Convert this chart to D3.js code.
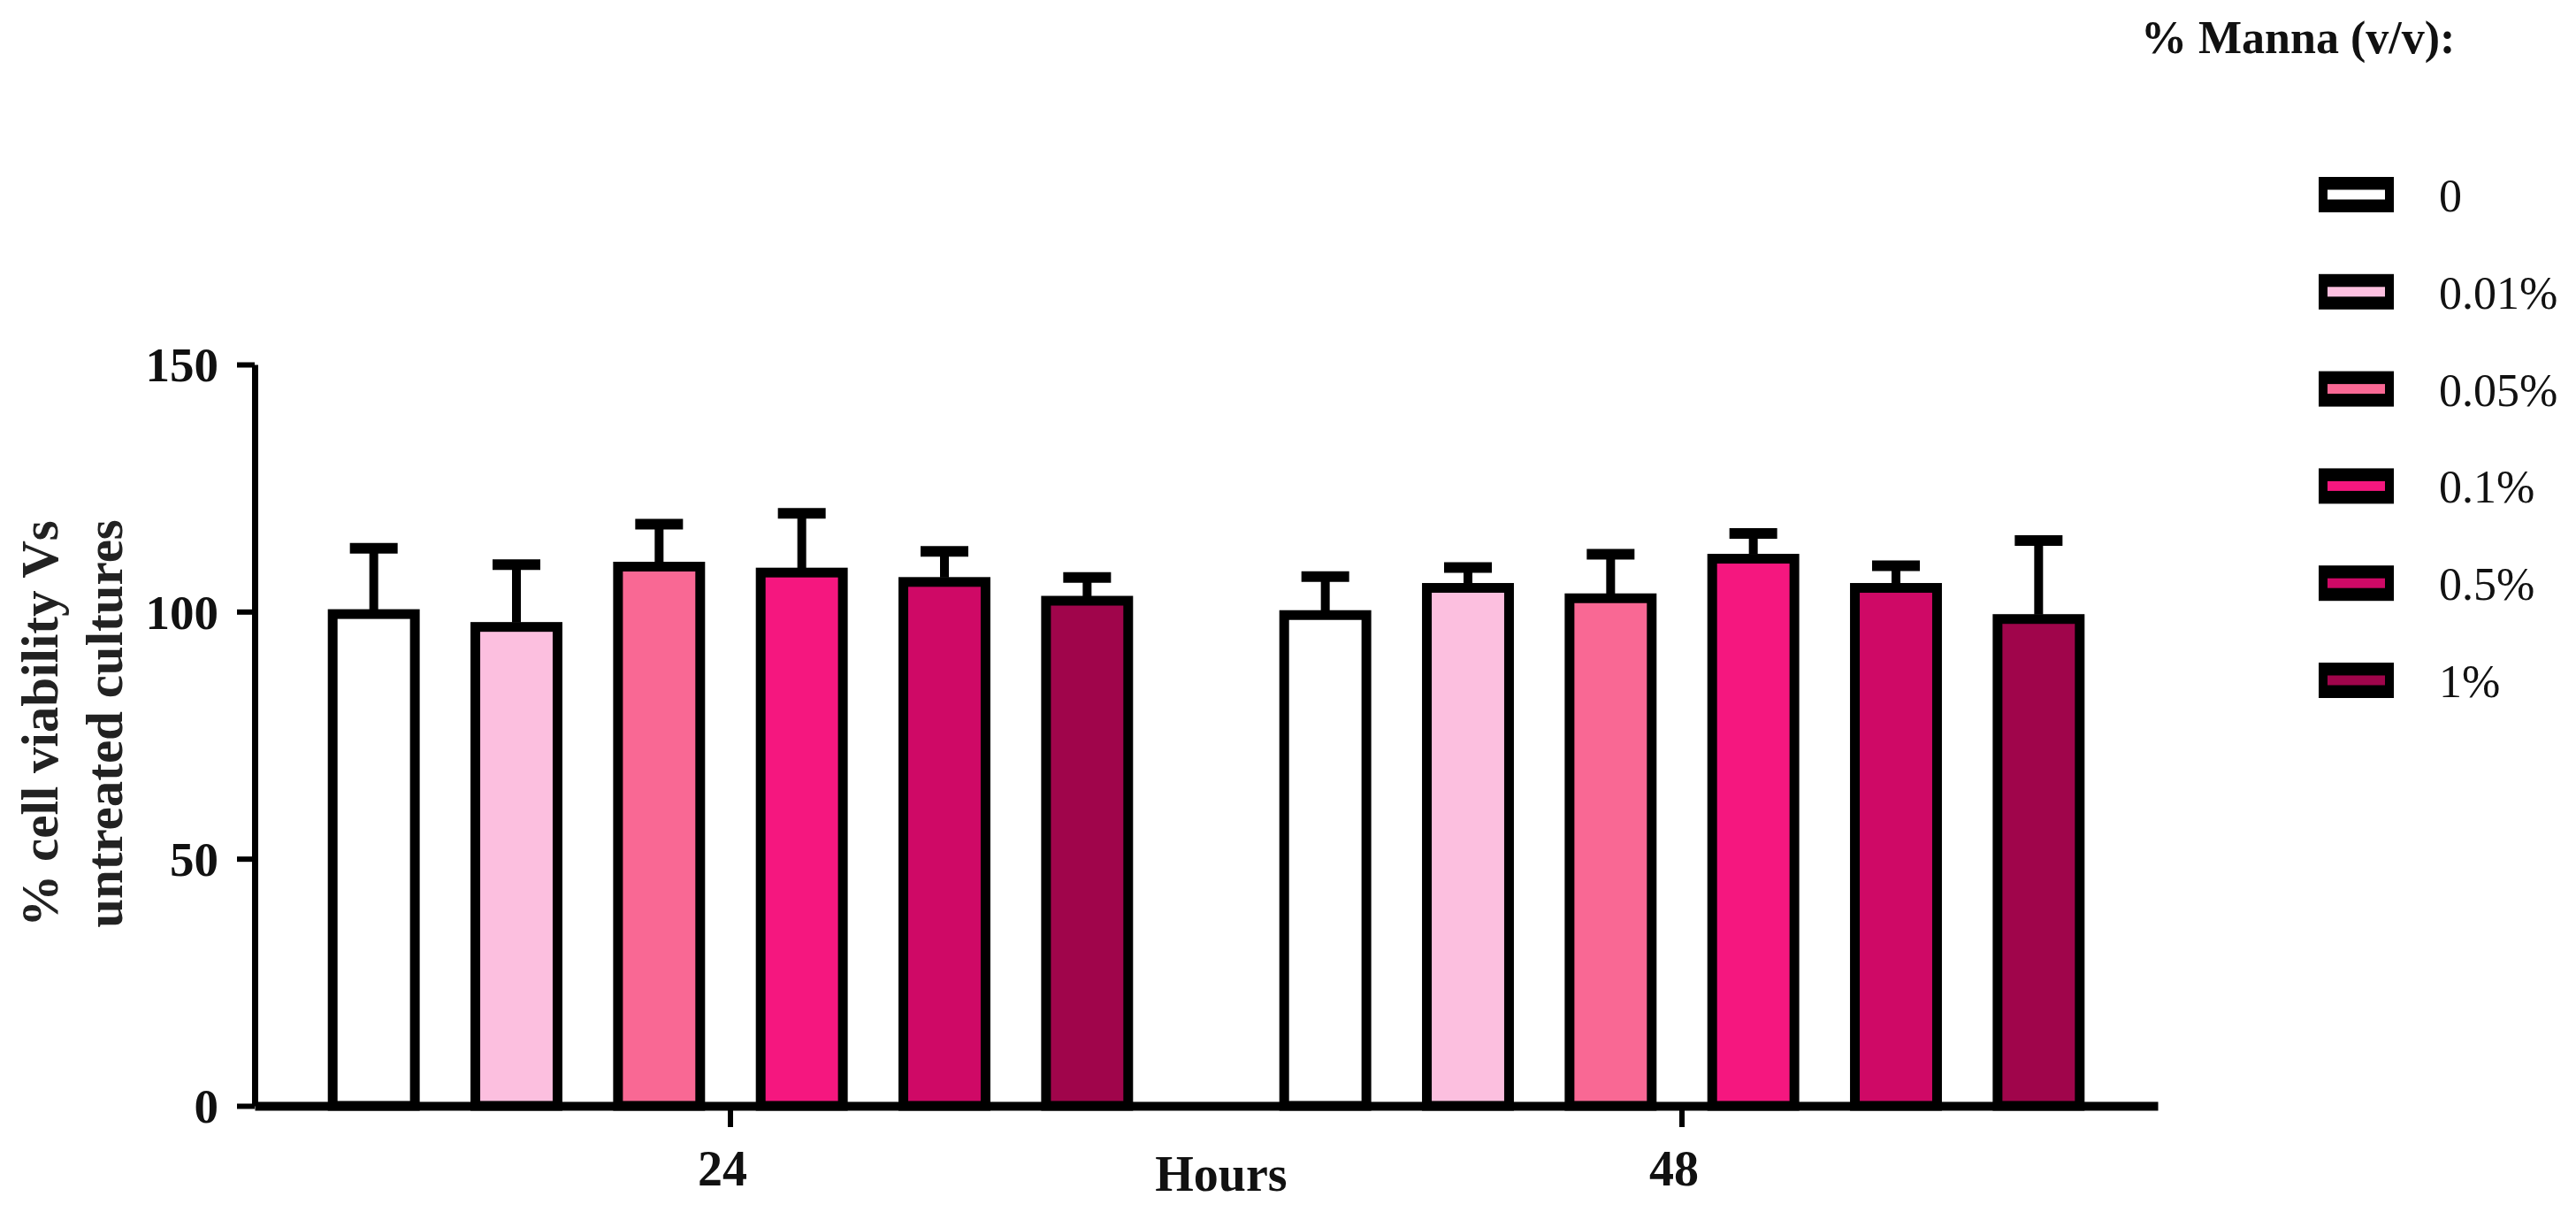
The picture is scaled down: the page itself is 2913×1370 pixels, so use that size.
<!DOCTYPE html>
<html>
<head>
<meta charset="utf-8">
<script src="https://cdn.jsdelivr.net/npm/d3@7"></script>
<style>
  html, body { margin: 0; padding: 0; background: #ffffff; }
  svg { display: block; }
</style>
</head>
<body>
<svg id="chart" width="2913" height="1370"></svg>
<script>
// ---- data ----
const hours = ["24", "48"];
const series = ["0", "0.01%", "0.05%", "0.1%", "0.5%", "1%"];
const colors = ["#ffffff", "#fcbfdf", "#f96894", "#f5177f", "#cf0966", "#a0054b"];
const means24 = [99.5, 96.9, 109.1, 107.9, 106.0, 102.2];
const errs24  = [13.3, 12.6, 8.6, 12.0, 6.2, 4.7];
const means48 = [99.3, 104.8, 102.7, 110.7, 104.8, 98.5];
const errs48  = [7.8, 4.1, 8.9, 5.1, 4.5, 15.9];
const yTicks = [0, 50, 100, 150];
const yTitleLines = ["% cell viability Vs", "untreated cultures"];
const xTitle = "Hours";
const legendTitle = "% Manna (v/v):";

const table = [];
hours.forEach((h, hi) => {
  const m = hi === 0 ? means24 : means48;
  const e = hi === 0 ? errs24 : errs48;
  series.forEach((s, si) => table.push({ hour: h, series: s, color: colors[si], mean: m[si], err: e[si] }));
});

// ---- layout ----
const svg = d3.select("#chart");
const serif = "'Liberation Serif', 'Times New Roman', serif";

const x0 = d3.scaleBand().domain(hours).range([288, 2440]).padding(0);
const groupW = 968;
const x1 = d3.scaleBand().domain(series).range([-groupW / 2, groupW / 2])
  .paddingInner(0.424).paddingOuter(0.212);
const y = d3.scaleLinear().domain([0, 150]).range([1250, 412]);

// bars
const barG = svg.append("g");
barG.selectAll("rect").data(table).join("rect")
  .attr("x", d => x0(d.hour) + x0.bandwidth() / 2 + x1(d.series))
  .attr("width", x1.bandwidth())
  .attr("y", d => y(d.mean))
  .attr("height", d => y(0) - y(d.mean))
  .attr("fill", d => d.color)
  .attr("stroke", "#000")
  .attr("stroke-width", 11);

// error bars (upper only)
const errG = svg.append("g").attr("stroke", "#000");
const cx = d => x0(d.hour) + x0.bandwidth() / 2 + x1(d.series) + x1.bandwidth() / 2;
errG.selectAll("line.stem").data(table).join("line").attr("class", "stem")
  .attr("x1", cx).attr("x2", cx)
  .attr("y1", d => y(d.mean) - 5).attr("y2", d => y(d.mean + d.err))
  .attr("stroke-width", 10);
errG.selectAll("line.cap").data(table).join("line").attr("class", "cap")
  .attr("x1", d => cx(d) - 27).attr("x2", d => cx(d) + 27)
  .attr("y1", d => y(d.mean + d.err)).attr("y2", d => y(d.mean + d.err))
  .attr("stroke-width", 12);

// y axis
const yAxis = svg.append("g").attr("transform", "translate(288,0)")
  .call(d3.axisLeft(y).tickValues(yTicks).tickSize(20).tickSizeOuter(0).tickPadding(21));
yAxis.select(".domain").attr("stroke", "#000").attr("stroke-width", 7);
yAxis.selectAll(".tick line").attr("stroke", "#000").attr("stroke-width", 6);
yAxis.selectAll(".tick text").attr("font-family", serif).attr("font-weight", "bold")
  .attr("font-size", 55).attr("fill", "#111").attr("dy", "0.34em");

// x axis
const xAxis = svg.append("g").attr("transform", "translate(0,1250)")
  .call(d3.axisBottom(x0).tickSize(24).tickSizeOuter(0).tickPadding(26));
xAxis.select(".domain").attr("stroke", "#000").attr("stroke-width", 10);
xAxis.selectAll(".tick line").attr("stroke", "#000").attr("stroke-width", 6);
xAxis.selectAll(".tick text").attr("font-family", serif).attr("font-weight", "bold")
  .attr("font-size", 56).attr("fill", "#111").attr("dx", -9).attr("dy", "0.71em");

// axis titles
svg.append("text").attr("x", 1381).attr("y", 1346).attr("text-anchor", "middle")
  .attr("font-family", serif).attr("font-weight", "bold").attr("font-size", 56)
  .attr("fill", "#111").text(xTitle);

const yTitleX = [65, 138];
yTitleLines.forEach((t, i) => {
  svg.append("text").attr("transform", `translate(${yTitleX[i]},818) rotate(-90)`)
    .attr("text-anchor", "middle")
    .attr("font-family", serif).attr("font-weight", "bold").attr("font-size", 59)
    .attr("fill", "#222").text(t);
});

// legend
svg.append("text").attr("x", 2421).attr("y", 60)
  .attr("font-family", serif).attr("font-weight", "bold").attr("font-size", 52)
  .attr("fill", "#111").text(legendTitle);

const legY = d3.scalePoint().domain(series).range([220, 769]);
const leg = svg.append("g").selectAll("g").data(series).join("g")
  .attr("transform", d => `translate(0,${legY(d)})`);
leg.append("rect").attr("x", 2622).attr("y", -20).attr("width", 85).attr("height", 40).attr("fill", "#000");
leg.append("rect").attr("x", 2632).attr("y", -5.5).attr("width", 65).attr("height", 11)
  .attr("fill", (d, i) => colors[i]);
leg.append("text").attr("x", 2758).attr("y", 19)
  .attr("font-family", serif).attr("font-size", 52).attr("fill", "#111").text(d => d);
</script>
</body>
</html>
